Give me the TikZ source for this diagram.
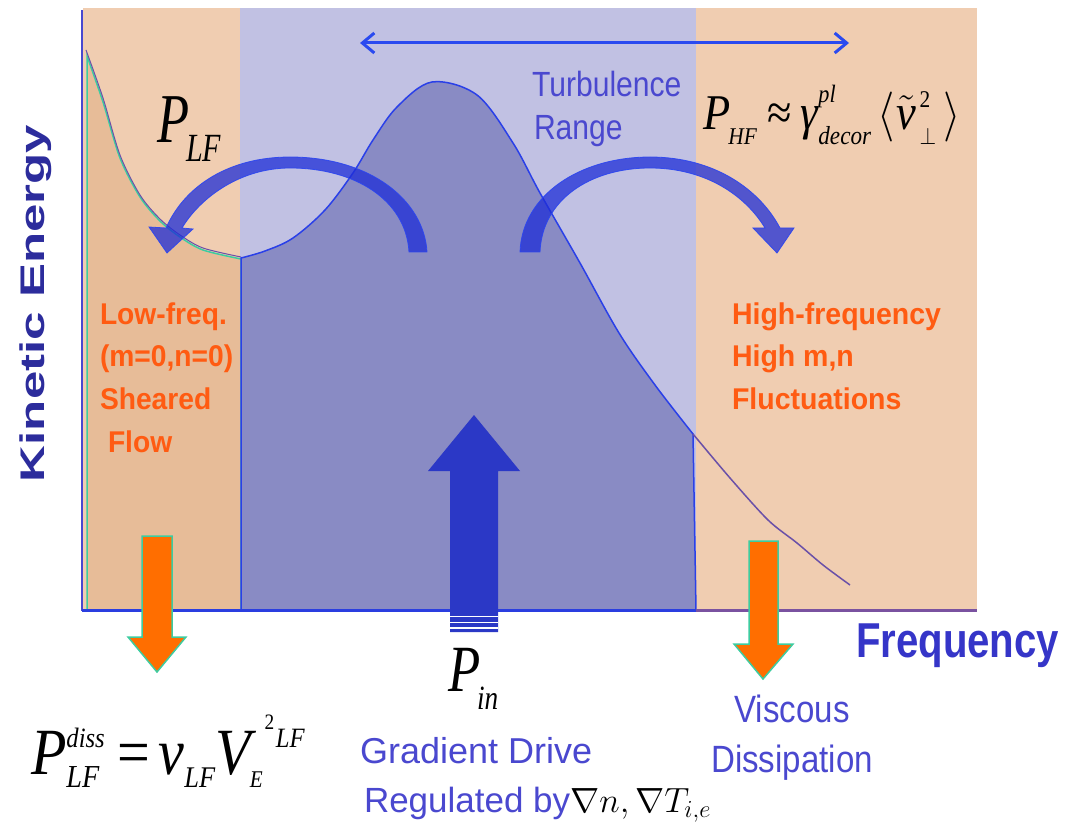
\RequirePackage{fix-cm}
\documentclass[tikz,border=0pt]{standalone}
\usepackage{graphicx}
\usepackage{fontspec}
\setmainfont{Liberation Sans}
\newfontfamily\tms{Liberation Serif}
\usetikzlibrary{arrows.meta}
\definecolor{peach}{HTML}{F0CDB1}
\definecolor{lowbox}{HTML}{E7BC98}
\definecolor{lightblue}{HTML}{C1C1E3}
\definecolor{darkblue}{HTML}{898BC4}
\definecolor{curveblue}{HTML}{2A40E8}
\definecolor{tailpurple}{HTML}{6A50A8}
\definecolor{axisblue}{HTML}{4848D0}
\definecolor{axisblue2}{HTML}{2A3EE0}
\definecolor{axispurple}{HTML}{7A52A0}
\definecolor{arrowblue}{HTML}{2A4AF0}
\definecolor{arcblue}{HTML}{1E2DD7}
\definecolor{arcedge}{HTML}{2B45F0}
\definecolor{bigblue}{HTML}{2B38C6}
\definecolor{arrorange}{HTML}{FF6E00}
\definecolor{arrteal}{HTML}{3DCCA0}
\definecolor{txtorange}{HTML}{FF5B12}
\definecolor{txtblue}{HTML}{4A48CF}
\definecolor{freqblue}{HTML}{3535C8}
\definecolor{keblue}{HTML}{2C2C9C}
\newcommand\fs[1]{\fontsize{#1}{#1}\selectfont}
\newcommand\ssb[4]{\begingroup\setbox0\hbox{#1}\setbox2\hbox{#2}%
  \ifdim\wd0>\wd2 \dimen0=\wd0 \else\dimen0=\wd2 \fi
  \rlap{\raise#3\box0}\rlap{\lower#4\box2}\hskip\dimen0\endgroup}
\begin{document}
\begin{tikzpicture}[x=1pt,y=-1pt,
  txt/.style={inner sep=0pt, outer sep=0pt, anchor=base west},
  orangetxt/.style={txt, text=txtorange, font=\fs{30}\bfseries},
  bluetxt/.style={txt, text=txtblue},
  fml/.style={txt, text=black},
  orangearrow/.style={fill=arrorange, draw=arrteal, line width=1.5pt, line join=miter},
  curvarrow/.style={fill=arcblue, fill opacity=0.75, draw=arcedge, draw opacity=0.9, line width=0.8pt},
  rangearrow/.style={arrowblue, line width=3pt, {Straight Barb[length=12pt,width=20pt]}-{Straight Barb[length=12pt,width=20pt]}}
]
\useasboundingbox (0,0) rectangle (1076,834);
% background bands
\fill[peach] (83,8) rectangle (977,610);
\fill[lightblue] (240,8) rectangle (696,610);
% low-frequency box
\path[fill=lowbox, draw=arrteal, line width=1.5pt]
  plot[smooth, tension=0.5] coordinates {(87,56) (103,102) (120,158) (140,197) (160,221) (180,237) (203,250) (241,259)}
  -- (241,611) -- (87,611) -- cycle;
\draw[tailpurple, line width=1pt]
  plot[smooth, tension=0.5] coordinates {(86,50) (103,98) (120,155) (140,195) (160,219) (180,235) (203,248) (241,257)};
% turbulence spectrum
\path[fill=darkblue, draw=curveblue, line width=1.5pt]
  plot[smooth, tension=0.55] coordinates {(241,258) (265,251) (293,238) (325,210) (353,173) (373,140) (397,107) (432,82) (477,95) (513,143) (540,193) (580,263) (619,333) (655,385) (693,434)}
  -- (696,610) -- (241,610) -- cycle;
\draw[tailpurple, line width=1.5pt]
  plot[smooth, tension=0.5] coordinates {(693,434) (730,478) (768,520) (797,543) (823,565) (850,585)};
% axes
\draw[axisblue, line width=2.5pt] (82,10) -- (82,611);
\draw[axisblue2, line width=3pt] (82,610) -- (696,610);
\draw[axispurple, line width=3pt] (696,610) -- (977,610);
% turbulence range double arrow
\coordinate (tl) at (360,43);
\coordinate (tr) at (849,43);
\draw[rangearrow] (tl) -- (tr);
% curved arrows
\path[curvarrow] (427,252) .. controls (424,200) and (370,157) .. (290,157)
  .. controls (230,157) and (185,185) .. (166,228) -- (149,227) -- (167,253) -- (193,229) -- (182,228)
  .. controls (200,198) and (240,168) .. (290,168) .. controls (355,168) and (406,200) .. (409,252) -- cycle;
\path[curvarrow] (520,252) .. controls (522,195) and (580,157) .. (650,157)
  .. controls (715,157) and (760,190) .. (780,228) -- (794,228) -- (777,253) -- (753,228) -- (765,228)
  .. controls (745,195) and (705,168) .. (650,168) .. controls (590,168) and (542,200) .. (540,252) -- cycle;
% big input arrow
\fill[bigblue] (450,632) -- (450,471) -- (428,471) -- (474,415) -- (520,471) -- (498,471) -- (498,632) -- cycle;
\draw[white, line width=1.2pt] (450,616.5) -- (498,616.5) (450,622.5) -- (498,622.5) (450,628) -- (498,628);
% dissipation arrows
\path[orangearrow] (142,536) -- (172,536) -- (172,637) -- (186,637) -- (157,672) -- (128,637) -- (142,637) -- cycle;
\path[orangearrow] (749,541) -- (778,541) -- (778,644) -- (793,644) -- (763,679) -- (734,644) -- (749,644) -- cycle;
% axis labels
\node[txt, rotate=90, text=keblue] (ke) at (44,482) {\scalebox{1}[0.67]{\fs{51}\bfseries Kinetic Energy}};
\node[txt, text=freqblue, font=\fs{49}\bfseries] (freq) at (856,657) {\scalebox{0.82}[1]{Frequency}};
% region labels
\node[bluetxt, font=\fs{35}] (turb1) at (532,97) {\scalebox{0.86}[1]{Turbulence}};
\node[bluetxt, font=\fs{35}] (turb2) at (534,140) {\scalebox{0.86}[1]{Range}};
\node[orangetxt] (lf1) at (100,324) {\scalebox{0.94}[1]{Low-freq.}};
\node[orangetxt] (lf2) at (100,366) {\scalebox{0.94}[1]{(m=0,n=0)}};
\node[orangetxt] (lf3) at (100,409) {\scalebox{0.94}[1]{Sheared}};
\node[orangetxt] (lf4) at (108,452) {\scalebox{0.94}[1]{Flow}};
\node[orangetxt] (hf1) at (732,324) {\scalebox{0.95}[1]{High-frequency}};
\node[orangetxt] (hf2) at (732,366) {\scalebox{0.95}[1]{High m,n}};
\node[orangetxt] (hf3) at (732,409) {\scalebox{0.95}[1]{Fluctuations}};
\node[bluetxt, font=\fs{36}] (grad) at (360,763) {Gradient Drive};
\node[bluetxt, font=\fs{35}] (reg) at (364,812) {Regulated by{\color{black}$\nabla n,\nabla T_{i,e}$}};
\node[bluetxt, anchor=base, font=\fs{38}] (visc1) at (792,722) {\scalebox{0.87}[1]{Viscous}};
\node[bluetxt, anchor=base, font=\fs{38}] (visc2) at (792,772) {\scalebox{0.87}[1]{Dissipation}};
% formulas
\node[fml] (plf) at (157,143) {\scalebox{0.75}[1]{\tms\itshape\fs{70}P\kern-4pt\lower19pt\hbox{\fs{40}LF}}};
\node[fml] (phf) at (703,130) {\scalebox{0.89}[1]{\tms\itshape\fs{50}P\kern-2pt\lower15pt\hbox{\fs{24}HF}\hskip12pt{\upshape ≈}\hskip10pt γ\ssb{\fs{25}pl}{\fs{26}decor}{27pt}{15pt}\hskip7pt$\bigg\langle$\hskip2pt$\tilde{\hbox{\tms\itshape\fs{50}v}}$\hskip4pt\ssb{\fs{24}\upshape 2}{\fs{24}$\perp$}{22pt}{15pt}\hskip8pt$\bigg\rangle$}};
\node[fml] (pin) at (448,691) {\scalebox{0.8}[1]{\tms\itshape\fs{66}P\kern-4pt\lower18pt\hbox{\fs{34}in}}};
\node[fml] (pdiss) at (31,774) {\scalebox{0.88}[1]{\tms\itshape\fs{66}P\ssb{\fs{28}diss}{\fs{32}LF}{27pt}{13pt}\hskip14pt{\upshape =}\hskip10pt ν\lower13pt\hbox{\fs{30}LF}V\kern-1pt\lower13pt\hbox{\fs{24}E}\hskip2pt\raise45pt\hbox{\fs{22}\upshape 2}\hskip2pt\raise27pt\hbox{\fs{28}LF}}};
\end{tikzpicture}
\end{document}
